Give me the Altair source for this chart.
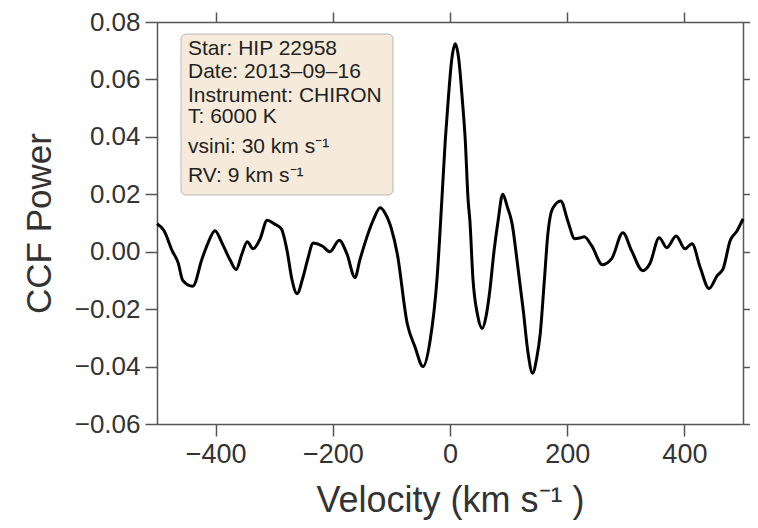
import altair as alt
import pandas as pd

# Velocity (km/s) and CCF power
velocity = [-500, -488, -474, -464, -456, -439, -423, -413, -401, -389, -375, -365,
            -355, -346, -336, -324, -312, -300, -288, -278, -270, -261, -251, -242,
            -234, -218, -205, -189, -176, -162, -154, -142, -131, -119, -111, -100,
            -90, -73, -60, -46, -34, -22, -14, -8, -3, 3, 9, 15, 21, 26, 31, 34,
            39, 47, 55, 62, 68, 75, 82, 90, 98, 106, 115, 125, 133, 141, 148, 154,
            161, 167, 175, 189, 201, 213, 222, 229, 242, 260, 276, 295, 310, 329,
            341, 357, 370, 386, 401, 413, 427, 442, 456, 466, 478, 490, 500]
power = [0.0097, 0.0073, 0.0003, -0.0038, -0.0100, -0.0120, -0.0024, 0.0030, 0.0073,
         0.0030, -0.0030, -0.0062, -0.0007, 0.0035, 0.0010, 0.0045, 0.0110, 0.0097,
         0.0080, 0.0003, -0.0094, -0.0146, -0.0090, -0.0020, 0.0030, 0.0020, 0.0000,
         0.0040, -0.0007, -0.0090, -0.0030, 0.0050, 0.0110, 0.0153, 0.0135, 0.0080,
         -0.0007, -0.0250, -0.0330, -0.0400, -0.0310, -0.0090, 0.0177, 0.0390,
         0.0530, 0.0670, 0.0724, 0.0670, 0.0530, 0.0390, 0.0177, 0.0107, -0.0090,
         -0.0220, -0.0267, -0.0220, -0.0135, 0.0000, 0.0107, 0.0200, 0.0155, 0.0097,
         -0.0040, -0.0204, -0.0350, -0.0423, -0.0370, -0.0285, -0.0100, 0.0062,
         0.0150, 0.0177, 0.0107, 0.0045, 0.0048, 0.0052, 0.0020, -0.0045, -0.0024,
         0.0066, 0.0003, -0.0066, -0.0042, 0.0049, 0.0014, 0.0055, 0.0010, 0.0028,
         -0.0055, -0.0128, -0.0083, -0.0060, 0.0038, 0.0073, 0.0114]

x_ticks = [-400, -200, 0, 200, 400]
y_ticks = [-0.06, -0.04, -0.02, 0.0, 0.02, 0.04, 0.06, 0.08]

info_lines = ["Star: HIP 22958", "Date: 2013\u201309\u201316", "Instrument: CHIRON",
              "T: 6000 K", "vsini: 30 km s\u207b\u00b9", "RV: 9 km s\u207b\u00b9"]
info_baselines = [33, 56, 80, 101, 131, 160]

df = pd.DataFrame({"v": velocity, "p": power})

FONT = "Liberation Sans"
AX = "#555555"
TXT = "#333333"

xscale = alt.Scale(domain=[-500, 500], nice=False, zero=False)
yscale = alt.Scale(domain=[-0.06, 0.08], nice=False, zero=False)

common = dict(domainColor=AX, tickColor=AX, domainWidth=1.5, tickWidth=1.5,
              grid=False, labelFont=FONT, titleFont=FONT, labelColor=TXT,
              titleColor=TXT, titleFontWeight="normal")

line = alt.Chart(df).mark_line(color="black", strokeWidth=3, interpolate="monotone").encode(
    x=alt.X("v:Q", scale=xscale,
            axis=alt.Axis(orient="bottom", values=x_ticks, format="d", labelFontSize=27,
                          tickSize=12, labelPadding=5, titleFontSize=36, titlePadding=16,
                          title="Velocity (km s\u207b\u00b9 )", **common)),
    y=alt.Y("p:Q", scale=yscale,
            axis=alt.Axis(orient="left", values=y_ticks, format=".2f", labelFontSize=26,
                          tickSize=12, labelPadding=5, titleFontSize=35, titlePadding=17,
                          title="CCF Power", **common)),
)

mirror = alt.Chart(df).mark_line(strokeOpacity=0).encode(
    x=alt.X("v:Q", scale=xscale,
            axis=alt.Axis(orient="top", values=x_ticks, labels=False, tickSize=10,
                          title="", **common)),
    y=alt.Y("p:Q", scale=yscale,
            axis=alt.Axis(orient="right", values=y_ticks, labels=False, tickSize=12,
                          title="", **common)),
)

one = pd.DataFrame({"a": [0]})
box = alt.Chart(one).mark_rect(fill="#f6ebda", stroke="#b8b8b8", strokeWidth=1,
                               cornerRadius=5).encode(
    x=alt.value(24), x2=alt.value(236), y=alt.value(12), y2=alt.value(173))

texts = []
for t, yb in zip(info_lines, info_baselines):
    texts.append(
        alt.Chart(one).mark_text(text=t, align="left", baseline="alphabetic", font=FONT,
                                 fontSize=21, color="#222222").encode(
            x=alt.value(31), y=alt.value(yb)))

chart = alt.layer(line, mirror, box, *texts).resolve_axis(
    x="independent", y="independent"
).properties(
    width=586, height=402,
    autosize=alt.AutoSizeParams(type="none"),
    padding={"left": 149, "top": 14, "right": 7, "bottom": 96},
).configure_view(strokeWidth=0)

chart.save("out.html", embed_options={"renderer": "svg", "actions": False})
